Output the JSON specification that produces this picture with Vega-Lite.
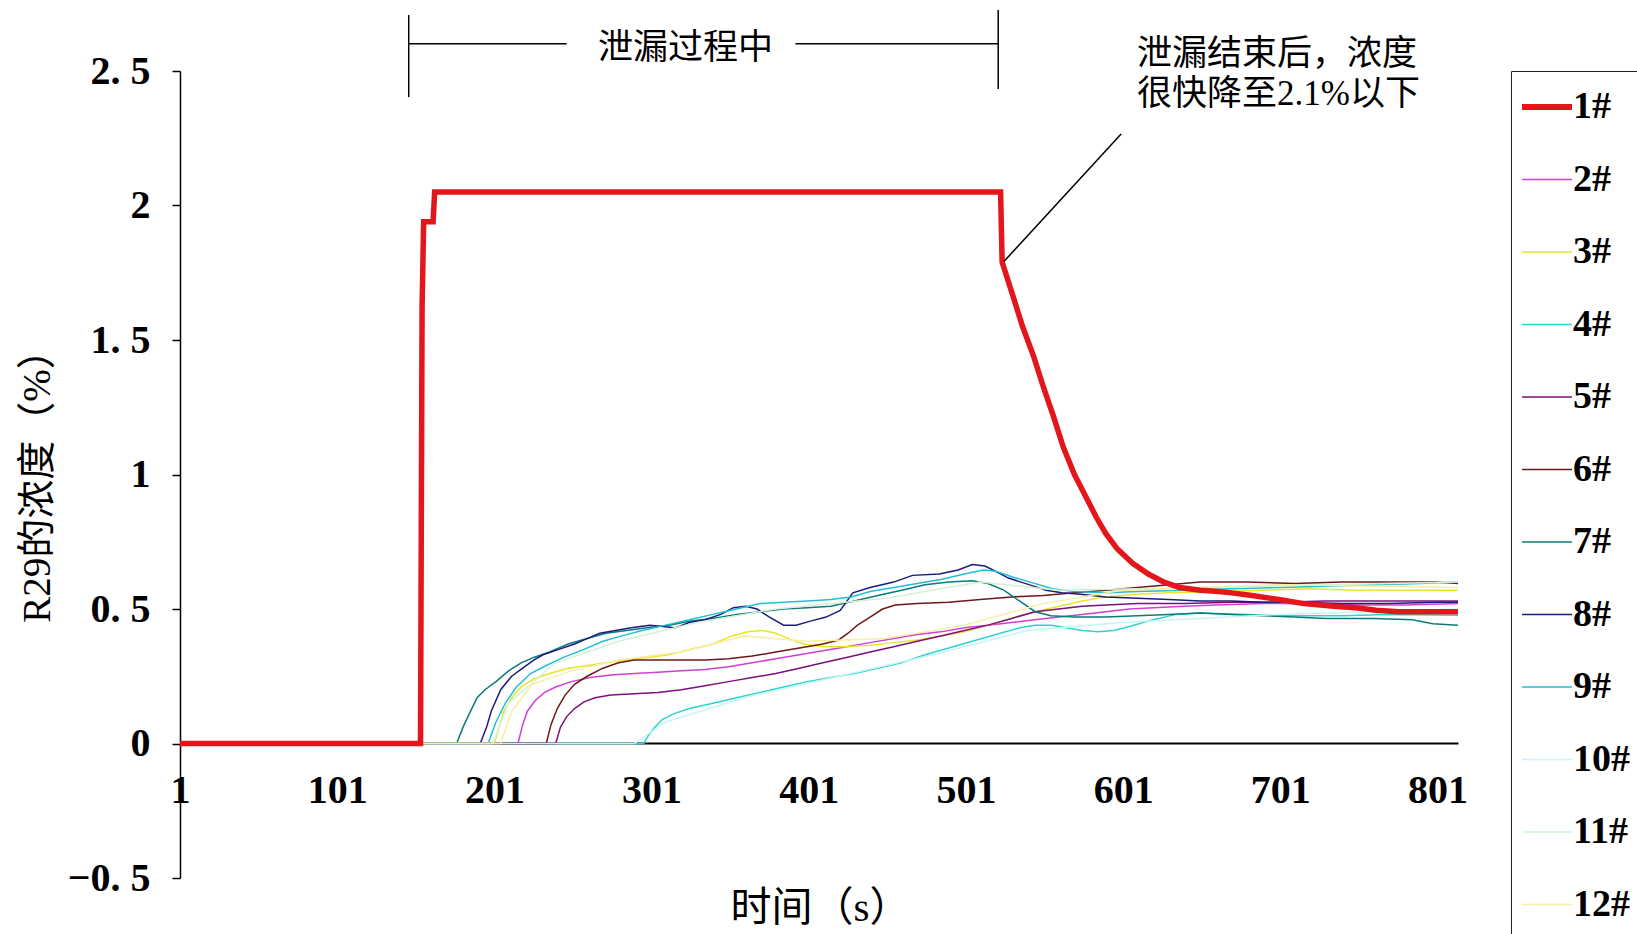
{
  "$schema": "https://vega.github.io/schema/vega-lite/v6.json",
  "width": 1278,
  "height": 807,
  "autosize": {"type": "none"},
  "padding": {"left": 180, "top": 71, "right": 179, "bottom": 56},
  "background": "white",
  "config": {
    "view": {"stroke": null},
    "font": "Liberation Serif, Noto Sans CJK SC"
  },
  "datasets": {
    "conc": [
      {"s":"2#","t":1,"v":0},{"s":"2#","t":216,"v":0},{"s":"2#","t":219,"v":0.07},{"s":"2#","t":222,"v":0.12},{"s":"2#","t":227,"v":0.16},{"s":"2#","t":233,"v":0.19},{"s":"2#","t":240,"v":0.21},{"s":"2#","t":250,"v":0.23},{"s":"2#","t":262,"v":0.245},{"s":"2#","t":275,"v":0.255},{"s":"2#","t":290,"v":0.26},{"s":"2#","t":305,"v":0.265},{"s":"2#","t":320,"v":0.27},{"s":"2#","t":335,"v":0.275},{"s":"2#","t":350,"v":0.285},{"s":"2#","t":365,"v":0.3},{"s":"2#","t":380,"v":0.315},{"s":"2#","t":395,"v":0.33},{"s":"2#","t":410,"v":0.345},{"s":"2#","t":425,"v":0.36},{"s":"2#","t":440,"v":0.375},{"s":"2#","t":455,"v":0.39},{"s":"2#","t":470,"v":0.405},{"s":"2#","t":485,"v":0.415},{"s":"2#","t":500,"v":0.43},{"s":"2#","t":515,"v":0.44},{"s":"2#","t":530,"v":0.45},{"s":"2#","t":545,"v":0.46},{"s":"2#","t":560,"v":0.47},{"s":"2#","t":575,"v":0.48},{"s":"2#","t":590,"v":0.49},{"s":"2#","t":605,"v":0.5},{"s":"2#","t":620,"v":0.505},{"s":"2#","t":640,"v":0.51},{"s":"2#","t":660,"v":0.515},{"s":"2#","t":690,"v":0.52},{"s":"2#","t":720,"v":0.52},{"s":"2#","t":750,"v":0.515},{"s":"2#","t":780,"v":0.515},{"s":"2#","t":814,"v":0.52},

      {"s":"3#","t":1,"v":0},{"s":"3#","t":201,"v":0},{"s":"3#","t":204,"v":0.06},{"s":"3#","t":207,"v":0.12},{"s":"3#","t":212,"v":0.17},{"s":"3#","t":218,"v":0.21},{"s":"3#","t":226,"v":0.24},{"s":"3#","t":236,"v":0.26},{"s":"3#","t":248,"v":0.28},{"s":"3#","t":260,"v":0.29},{"s":"3#","t":272,"v":0.3},{"s":"3#","t":285,"v":0.31},{"s":"3#","t":298,"v":0.32},{"s":"3#","t":312,"v":0.33},{"s":"3#","t":326,"v":0.35},{"s":"3#","t":340,"v":0.37},{"s":"3#","t":352,"v":0.4},{"s":"3#","t":362,"v":0.415},{"s":"3#","t":372,"v":0.42},{"s":"3#","t":380,"v":0.41},{"s":"3#","t":388,"v":0.39},{"s":"3#","t":398,"v":0.37},{"s":"3#","t":410,"v":0.36},{"s":"3#","t":425,"v":0.36},{"s":"3#","t":440,"v":0.365},{"s":"3#","t":455,"v":0.375},{"s":"3#","t":470,"v":0.385},{"s":"3#","t":485,"v":0.4},{"s":"3#","t":500,"v":0.415},{"s":"3#","t":515,"v":0.44},{"s":"3#","t":530,"v":0.465},{"s":"3#","t":545,"v":0.49},{"s":"3#","t":560,"v":0.51},{"s":"3#","t":575,"v":0.53},{"s":"3#","t":590,"v":0.545},{"s":"3#","t":610,"v":0.555},{"s":"3#","t":630,"v":0.56},{"s":"3#","t":660,"v":0.565},{"s":"3#","t":690,"v":0.57},{"s":"3#","t":720,"v":0.575},{"s":"3#","t":750,"v":0.57},{"s":"3#","t":780,"v":0.57},{"s":"3#","t":814,"v":0.57},

      {"s":"4#","t":1,"v":0},{"s":"4#","t":296,"v":0},{"s":"4#","t":299,"v":0.03},{"s":"4#","t":303,"v":0.06},{"s":"4#","t":308,"v":0.09},{"s":"4#","t":315,"v":0.11},{"s":"4#","t":325,"v":0.13},{"s":"4#","t":340,"v":0.15},{"s":"4#","t":355,"v":0.17},{"s":"4#","t":370,"v":0.19},{"s":"4#","t":385,"v":0.21},{"s":"4#","t":400,"v":0.23},{"s":"4#","t":415,"v":0.245},{"s":"4#","t":430,"v":0.26},{"s":"4#","t":445,"v":0.28},{"s":"4#","t":460,"v":0.3},{"s":"4#","t":475,"v":0.33},{"s":"4#","t":490,"v":0.355},{"s":"4#","t":505,"v":0.38},{"s":"4#","t":520,"v":0.405},{"s":"4#","t":535,"v":0.43},{"s":"4#","t":545,"v":0.44},{"s":"4#","t":555,"v":0.44},{"s":"4#","t":565,"v":0.43},{"s":"4#","t":575,"v":0.42},{"s":"4#","t":585,"v":0.415},{"s":"4#","t":595,"v":0.42},{"s":"4#","t":605,"v":0.435},{"s":"4#","t":620,"v":0.46},{"s":"4#","t":635,"v":0.48},{"s":"4#","t":650,"v":0.485},{"s":"4#","t":680,"v":0.48},{"s":"4#","t":710,"v":0.475},{"s":"4#","t":740,"v":0.475},{"s":"4#","t":770,"v":0.48},{"s":"4#","t":800,"v":0.478},{"s":"4#","t":814,"v":0.477},

      {"s":"5#","t":1,"v":0},{"s":"5#","t":240,"v":0},{"s":"5#","t":243,"v":0.06},{"s":"5#","t":247,"v":0.1},{"s":"5#","t":252,"v":0.13},{"s":"5#","t":258,"v":0.155},{"s":"5#","t":265,"v":0.17},{"s":"5#","t":275,"v":0.18},{"s":"5#","t":290,"v":0.185},{"s":"5#","t":305,"v":0.19},{"s":"5#","t":320,"v":0.2},{"s":"5#","t":335,"v":0.215},{"s":"5#","t":350,"v":0.23},{"s":"5#","t":365,"v":0.245},{"s":"5#","t":380,"v":0.26},{"s":"5#","t":395,"v":0.28},{"s":"5#","t":410,"v":0.3},{"s":"5#","t":425,"v":0.32},{"s":"5#","t":440,"v":0.34},{"s":"5#","t":455,"v":0.36},{"s":"5#","t":470,"v":0.38},{"s":"5#","t":485,"v":0.4},{"s":"5#","t":500,"v":0.42},{"s":"5#","t":515,"v":0.44},{"s":"5#","t":530,"v":0.465},{"s":"5#","t":545,"v":0.49},{"s":"5#","t":560,"v":0.5},{"s":"5#","t":575,"v":0.51},{"s":"5#","t":590,"v":0.515},{"s":"5#","t":610,"v":0.52},{"s":"5#","t":640,"v":0.52},{"s":"5#","t":670,"v":0.525},{"s":"5#","t":700,"v":0.525},{"s":"5#","t":730,"v":0.53},{"s":"5#","t":760,"v":0.53},{"s":"5#","t":790,"v":0.53},{"s":"5#","t":814,"v":0.53},

      {"s":"6#","t":1,"v":0},{"s":"6#","t":234,"v":0},{"s":"6#","t":237,"v":0.07},{"s":"6#","t":241,"v":0.13},{"s":"6#","t":246,"v":0.18},{"s":"6#","t":252,"v":0.22},{"s":"6#","t":260,"v":0.25},{"s":"6#","t":270,"v":0.28},{"s":"6#","t":280,"v":0.3},{"s":"6#","t":290,"v":0.31},{"s":"6#","t":305,"v":0.31},{"s":"6#","t":320,"v":0.31},{"s":"6#","t":335,"v":0.31},{"s":"6#","t":350,"v":0.315},{"s":"6#","t":365,"v":0.325},{"s":"6#","t":380,"v":0.34},{"s":"6#","t":395,"v":0.355},{"s":"6#","t":410,"v":0.37},{"s":"6#","t":420,"v":0.385},{"s":"6#","t":426,"v":0.41},{"s":"6#","t":432,"v":0.44},{"s":"6#","t":440,"v":0.47},{"s":"6#","t":448,"v":0.5},{"s":"6#","t":456,"v":0.515},{"s":"6#","t":470,"v":0.52},{"s":"6#","t":490,"v":0.525},{"s":"6#","t":510,"v":0.535},{"s":"6#","t":530,"v":0.545},{"s":"6#","t":550,"v":0.55},{"s":"6#","t":570,"v":0.56},{"s":"6#","t":590,"v":0.57},{"s":"6#","t":610,"v":0.58},{"s":"6#","t":630,"v":0.59},{"s":"6#","t":650,"v":0.6},{"s":"6#","t":680,"v":0.6},{"s":"6#","t":710,"v":0.595},{"s":"6#","t":740,"v":0.6},{"s":"6#","t":770,"v":0.6},{"s":"6#","t":800,"v":0.6},{"s":"6#","t":814,"v":0.595},

      {"s":"7#","t":1,"v":0},{"s":"7#","t":177,"v":0},{"s":"7#","t":181,"v":0.06},{"s":"7#","t":185,"v":0.11},{"s":"7#","t":190,"v":0.17},{"s":"7#","t":195,"v":0.2},{"s":"7#","t":202,"v":0.23},{"s":"7#","t":210,"v":0.27},{"s":"7#","t":218,"v":0.3},{"s":"7#","t":226,"v":0.32},{"s":"7#","t":236,"v":0.34},{"s":"7#","t":248,"v":0.37},{"s":"7#","t":260,"v":0.39},{"s":"7#","t":272,"v":0.41},{"s":"7#","t":285,"v":0.42},{"s":"7#","t":298,"v":0.43},{"s":"7#","t":312,"v":0.44},{"s":"7#","t":326,"v":0.455},{"s":"7#","t":340,"v":0.465},{"s":"7#","t":355,"v":0.48},{"s":"7#","t":370,"v":0.49},{"s":"7#","t":385,"v":0.5},{"s":"7#","t":400,"v":0.505},{"s":"7#","t":415,"v":0.51},{"s":"7#","t":430,"v":0.53},{"s":"7#","t":445,"v":0.55},{"s":"7#","t":460,"v":0.57},{"s":"7#","t":475,"v":0.59},{"s":"7#","t":490,"v":0.6},{"s":"7#","t":505,"v":0.605},{"s":"7#","t":515,"v":0.595},{"s":"7#","t":525,"v":0.57},{"s":"7#","t":535,"v":0.53},{"s":"7#","t":545,"v":0.49},{"s":"7#","t":555,"v":0.475},{"s":"7#","t":570,"v":0.47},{"s":"7#","t":590,"v":0.47},{"s":"7#","t":610,"v":0.475},{"s":"7#","t":630,"v":0.48},{"s":"7#","t":650,"v":0.485},{"s":"7#","t":670,"v":0.48},{"s":"7#","t":690,"v":0.475},{"s":"7#","t":710,"v":0.47},{"s":"7#","t":730,"v":0.465},{"s":"7#","t":760,"v":0.465},{"s":"7#","t":785,"v":0.46},{"s":"7#","t":798,"v":0.445},{"s":"7#","t":814,"v":0.44},

      {"s":"8#","t":1,"v":0},{"s":"8#","t":192,"v":0},{"s":"8#","t":196,"v":0.06},{"s":"8#","t":199,"v":0.12},{"s":"8#","t":205,"v":0.2},{"s":"8#","t":212,"v":0.25},{"s":"8#","t":219,"v":0.28},{"s":"8#","t":226,"v":0.31},{"s":"8#","t":232,"v":0.33},{"s":"8#","t":242,"v":0.35},{"s":"8#","t":252,"v":0.37},{"s":"8#","t":260,"v":0.39},{"s":"8#","t":268,"v":0.41},{"s":"8#","t":278,"v":0.42},{"s":"8#","t":288,"v":0.43},{"s":"8#","t":300,"v":0.44},{"s":"8#","t":308,"v":0.435},{"s":"8#","t":316,"v":0.43},{"s":"8#","t":325,"v":0.45},{"s":"8#","t":335,"v":0.46},{"s":"8#","t":345,"v":0.48},{"s":"8#","t":353,"v":0.505},{"s":"8#","t":361,"v":0.51},{"s":"8#","t":368,"v":0.5},{"s":"8#","t":376,"v":0.47},{"s":"8#","t":385,"v":0.44},{"s":"8#","t":393,"v":0.44},{"s":"8#","t":402,"v":0.455},{"s":"8#","t":412,"v":0.47},{"s":"8#","t":421,"v":0.495},{"s":"8#","t":429,"v":0.56},{"s":"8#","t":440,"v":0.58},{"s":"8#","t":455,"v":0.6},{"s":"8#","t":467,"v":0.625},{"s":"8#","t":484,"v":0.63},{"s":"8#","t":496,"v":0.645},{"s":"8#","t":505,"v":0.665},{"s":"8#","t":513,"v":0.66},{"s":"8#","t":520,"v":0.64},{"s":"8#","t":528,"v":0.615},{"s":"8#","t":536,"v":0.6},{"s":"8#","t":544,"v":0.585},{"s":"8#","t":552,"v":0.57},{"s":"8#","t":562,"v":0.56},{"s":"8#","t":574,"v":0.555},{"s":"8#","t":590,"v":0.545},{"s":"8#","t":610,"v":0.54},{"s":"8#","t":630,"v":0.535},{"s":"8#","t":650,"v":0.53},{"s":"8#","t":670,"v":0.53},{"s":"8#","t":690,"v":0.525},{"s":"8#","t":710,"v":0.525},{"s":"8#","t":740,"v":0.52},{"s":"8#","t":770,"v":0.52},{"s":"8#","t":800,"v":0.525},{"s":"8#","t":814,"v":0.525},

      {"s":"9#","t":1,"v":0},{"s":"9#","t":197,"v":0},{"s":"9#","t":202,"v":0.08},{"s":"9#","t":208,"v":0.15},{"s":"9#","t":215,"v":0.21},{"s":"9#","t":224,"v":0.26},{"s":"9#","t":234,"v":0.29},{"s":"9#","t":245,"v":0.32},{"s":"9#","t":258,"v":0.35},{"s":"9#","t":270,"v":0.38},{"s":"9#","t":282,"v":0.4},{"s":"9#","t":295,"v":0.42},{"s":"9#","t":310,"v":0.44},{"s":"9#","t":325,"v":0.46},{"s":"9#","t":340,"v":0.48},{"s":"9#","t":355,"v":0.5},{"s":"9#","t":370,"v":0.52},{"s":"9#","t":385,"v":0.525},{"s":"9#","t":400,"v":0.53},{"s":"9#","t":415,"v":0.535},{"s":"9#","t":428,"v":0.545},{"s":"9#","t":440,"v":0.565},{"s":"9#","t":455,"v":0.58},{"s":"9#","t":470,"v":0.595},{"s":"9#","t":485,"v":0.61},{"s":"9#","t":500,"v":0.63},{"s":"9#","t":512,"v":0.645},{"s":"9#","t":520,"v":0.64},{"s":"9#","t":530,"v":0.62},{"s":"9#","t":542,"v":0.6},{"s":"9#","t":556,"v":0.575},{"s":"9#","t":570,"v":0.565},{"s":"9#","t":590,"v":0.56},{"s":"9#","t":610,"v":0.565},{"s":"9#","t":640,"v":0.57},{"s":"9#","t":670,"v":0.575},{"s":"9#","t":700,"v":0.58},{"s":"9#","t":730,"v":0.585},{"s":"9#","t":760,"v":0.59},{"s":"9#","t":790,"v":0.595},{"s":"9#","t":814,"v":0.6},

      {"s":"10#","t":1,"v":0},{"s":"10#","t":290,"v":0},{"s":"10#","t":310,"v":0.08},{"s":"10#","t":360,"v":0.17},{"s":"10#","t":420,"v":0.25},{"s":"10#","t":480,"v":0.33},{"s":"10#","t":540,"v":0.42},{"s":"10#","t":600,"v":0.45},{"s":"10#","t":700,"v":0.48},{"s":"10#","t":814,"v":0.5},

      {"s":"11#","t":1,"v":0},{"s":"11#","t":200,"v":0},{"s":"11#","t":210,"v":0.15},{"s":"11#","t":240,"v":0.3},{"s":"11#","t":280,"v":0.38},{"s":"11#","t":330,"v":0.45},{"s":"11#","t":380,"v":0.5},{"s":"11#","t":450,"v":0.54},{"s":"11#","t":510,"v":0.6},{"s":"11#","t":560,"v":0.57},{"s":"11#","t":650,"v":0.58},{"s":"11#","t":814,"v":0.6},

      {"s":"12#","t":1,"v":0},{"s":"12#","t":205,"v":0},{"s":"12#","t":212,"v":0.12},{"s":"12#","t":225,"v":0.22},{"s":"12#","t":250,"v":0.27},{"s":"12#","t":280,"v":0.31},{"s":"12#","t":320,"v":0.34},{"s":"12#","t":360,"v":0.4},{"s":"12#","t":400,"v":0.38},{"s":"12#","t":450,"v":0.39},{"s":"12#","t":500,"v":0.44},{"s":"12#","t":550,"v":0.52},{"s":"12#","t":600,"v":0.57},{"s":"12#","t":700,"v":0.59},{"s":"12#","t":814,"v":0.58},

      {"s":"1#","t":1,"v":0},{"s":"1#","t":154,"v":0},{"s":"1#","t":155,"v":1.62},{"s":"1#","t":156,"v":1.94},{"s":"1#","t":162,"v":1.94},{"s":"1#","t":163,"v":2.05},{"s":"1#","t":523,"v":2.05},{"s":"1#","t":524,"v":1.79},{"s":"1#","t":530,"v":1.68},{"s":"1#","t":537,"v":1.55},{"s":"1#","t":544,"v":1.44},{"s":"1#","t":550,"v":1.33},{"s":"1#","t":557,"v":1.21},{"s":"1#","t":563,"v":1.1},{"s":"1#","t":570,"v":1.0},{"s":"1#","t":577,"v":0.92},{"s":"1#","t":584,"v":0.84},{"s":"1#","t":590,"v":0.78},{"s":"1#","t":597,"v":0.725},{"s":"1#","t":607,"v":0.67},{"s":"1#","t":617,"v":0.63},{"s":"1#","t":627,"v":0.6},{"s":"1#","t":637,"v":0.58},{"s":"1#","t":650,"v":0.57},{"s":"1#","t":660,"v":0.566},{"s":"1#","t":670,"v":0.56},{"s":"1#","t":683,"v":0.55},{"s":"1#","t":700,"v":0.535},{"s":"1#","t":716,"v":0.52},{"s":"1#","t":735,"v":0.51},{"s":"1#","t":749,"v":0.505},{"s":"1#","t":762,"v":0.495},{"s":"1#","t":776,"v":0.49},{"s":"1#","t":800,"v":0.49},{"s":"1#","t":814,"v":0.49}
    ],
    "brackets": [
      {"t": 146.5, "v": 2.403, "t2": 146.5, "v2": 2.708},
      {"t": 521.5, "v": 2.433, "t2": 521.5, "v2": 2.727},
      {"t": 146.5, "v": 2.601, "t2": 247, "v2": 2.601},
      {"t": 392.5, "v": 2.601, "t2": 521.5, "v2": 2.601},
      {"t": 525.3, "v": 1.793, "t2": 599.7, "v2": 2.266}
    ],
    "phase_note": [
      {"t": 322.6, "v": 2.585, "label": "泄漏过程中"}
    ],
    "after_note": [
      {"t": 609.8, "v": 2.562, "label": "泄漏结束后，浓度"},
      {"t": 609.8, "v": 2.415, "label": "很快降至2.1%以下"}
    ]
  },
  "layer": [
    {
      "data": {"name": "conc"},
      "transform": [{"filter": "datum.s != '1#'"}],
      "mark": {"type": "line", "clip": false, "strokeWidth": 1.5},
      "encoding": {
        "x": {
          "field": "t", "type": "quantitative",
          "scale": {"domain": [1, 814], "nice": false, "zero": false},
          "axis": {
            "title": "时间（s）",
            "values": [1, 101, 201, 301, 401, 501, 601, 701, 801],
            "format": "d",
            "offset": -135,
            "grid": false,
            "ticks": false,
            "domainColor": "black",
            "domainWidth": 2,
            "labelFont": "Liberation Serif",
            "labelFontWeight": "bold",
            "labelFontSize": 40,
            "labelColor": "black",
            "labelPadding": 27,
            "labelFlush": false,
            "labelOverlap": false,
            "titleFont": "Liberation Serif, Noto Sans CJK SC",
            "titleFontWeight": "normal",
            "titleFontSize": 41,
            "titleColor": "black",
            "titleX": 640,
            "titleY": 165,
            "titleBaseline": "middle",
            "titleAlign": "center"
          }
        },
        "y": {
          "field": "v", "type": "quantitative",
          "scale": {"domain": [-0.5, 2.5], "nice": false, "zero": false},
          "axis": {
            "title": "R29的浓度（%）",
            "values": [-0.5, 0, 0.5, 1, 1.5, 2, 2.5],
            "labelExpr": "replace(format(datum.value, '~g'), '.', '. ')",
            "grid": false,
            "domainColor": "black",
            "domainWidth": 1.5,
            "tickColor": "black",
            "tickSize": 8,
            "tickWidth": 1.5,
            "labelFont": "Liberation Serif",
            "labelFontWeight": "bold",
            "labelFontSize": 40,
            "labelColor": "black",
            "labelPadding": 22,
            "labelOverlap": false,
            "titleFont": "Liberation Serif, Noto Sans CJK SC",
            "titleFontWeight": "normal",
            "titleFontSize": 39,
            "titleColor": "black",
            "titleX": -143,
            "titleY": 405,
            "titleAngle": -90,
            "titleBaseline": "middle",
            "titleAlign": "center"
          }
        },
        "color": {
          "field": "s", "type": "nominal",
          "scale": {
            "domain": ["1#","2#","3#","4#","5#","6#","7#","8#","9#","10#","11#","12#"],
            "range": ["#e3161b","#d23fd2","#e6e62e","#2ed3d3","#7d107d","#701818","#0b7a7a","#1c1c7e","#1fbfd6","#c9f4f4","#d3f2d3","#f6eea4"]
          },
          "legend": {
            "title": null,
            "orient": "none",
            "legendX": 1331,
            "legendY": 0,
            "padding": 17,
            "rowPadding": 34.5,
            "strokeColor": "#222222",
            "fillColor": "white",
            "symbolType": "stroke",
            "symbolSize": 2500,
            "symbolStrokeWidth": 1.5,
            "labelOffset": 7,
            "labelFont": "Liberation Serif",
            "labelFontWeight": "bold",
            "labelFontSize": 38,
            "labelColor": "black",
            "labelLimit": 0,
            "encode": {
              "symbols": {
                "update": {
                  "strokeWidth": {"signal": "datum.value === '1#' ? 6 : 1.5"}
                }
              }
            }
          }
        }
      }
    },
    {
      "data": {"name": "conc"},
      "transform": [{"filter": "datum.s == '1#'"}],
      "mark": {"type": "line", "clip": false, "strokeWidth": 5.5, "strokeJoin": "miter"},
      "encoding": {
        "x": {"field": "t", "type": "quantitative"},
        "y": {"field": "v", "type": "quantitative"},
        "color": {"field": "s", "type": "nominal"}
      }
    },
    {
      "data": {"name": "brackets"},
      "mark": {"type": "rule", "color": "black", "strokeWidth": 1.5},
      "encoding": {
        "x": {"field": "t", "type": "quantitative"},
        "y": {"field": "v", "type": "quantitative"},
        "x2": {"field": "t2"},
        "y2": {"field": "v2"}
      }
    },
    {
      "data": {"name": "phase_note"},
      "mark": {"type": "text", "align": "center", "baseline": "middle", "font": "Noto Sans CJK SC", "fontSize": 35, "color": "black"},
      "encoding": {
        "x": {"field": "t", "type": "quantitative"},
        "y": {"field": "v", "type": "quantitative"},
        "text": {"field": "label"}
      }
    },
    {
      "data": {"name": "after_note"},
      "mark": {"type": "text", "align": "left", "baseline": "middle", "font": "Liberation Serif, Noto Sans CJK SC", "fontSize": 35, "color": "black"},
      "encoding": {
        "x": {"field": "t", "type": "quantitative"},
        "y": {"field": "v", "type": "quantitative"},
        "text": {"field": "label"}
      }
    }
  ]
}
